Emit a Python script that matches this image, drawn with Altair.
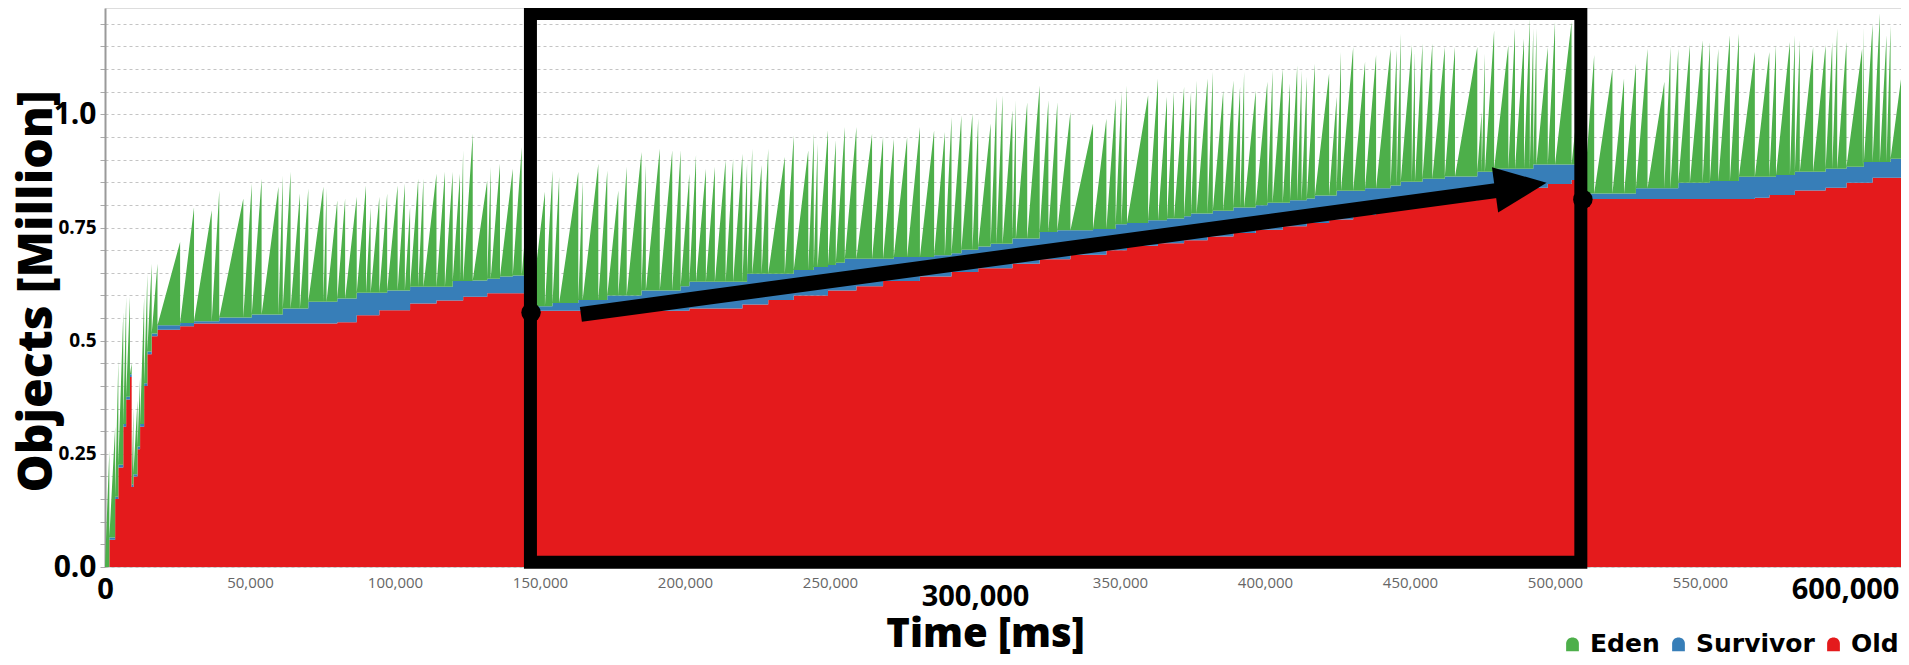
import altair as alt
import numpy as np
import pandas as pd

# ---------------- data ----------------
# time of each young collection (ms) and the total heap objects (millions) just before it
gc_ms = [1500, 3500, 4600, 6300, 7300, 8600, 9200, 9800, 11200, 12100, 13500, 14600, 16100, 18100,
         25900, 30700, 36800, 39400, 47700, 50600, 54000, 59800, 61300, 64000, 67200, 70100, 75300, 76400,
         80100, 82800, 86800, 90000, 91600, 94600, 97300, 100900, 103400, 105200, 108000, 109800, 114300,
         117200, 119900, 122400, 123500,
         126800, 131800, 133000, 136200, 140600, 143700, 147000,
         151700, 154300, 156600, 163200, 164700, 170100, 173200, 177000, 179900, 185000, 186500, 191300,
         195600, 198500, 201500, 203800, 207200, 210300, 214000, 216600, 219800, 221400, 223200, 226400,
         228700, 234400, 237500, 242500, 244400, 245700, 249300,
         252000, 255100, 259100, 264500, 268300, 272000, 276600, 281000, 285900, 289600, 291900, 295300,
         299100, 301100, 305400, 307400, 309500, 312900, 314100, 318000, 322300, 325300, 328400, 332900,
         340700, 345300, 348500, 350500, 352400, 359700, 363100, 366200, 368600, 372100,
         374500, 376400, 380200, 382000, 385600, 389100, 391400, 392800, 396800, 400800, 402600, 406100,
         408600, 411100, 412600, 414400, 417200, 422100, 424700, 426200, 430400, 434500, 438300, 443300,
         445400, 446800, 450600, 451700, 454300, 457700, 462000, 465500, 473200, 474700, 475800, 479000,
         483900, 486200, 489300, 491300, 492500, 493600, 497500,
         500000, 505700, 510000, 513500, 519800, 523800, 527900, 531900, 537700, 539800, 542500, 546500,
         550900, 553400, 556300, 560300, 563400, 568900, 573900, 576200, 581000, 582700, 584400, 589000,
         593300, 595600, 597300, 600500, 605900, 606500, 609500, 612000, 614300, 615700, 620000]
peak_top = [0.258, 0.31, 0.457, 0.563, 0.597, 0.597, 0.45, 0.353, 0.368, 0.42, 0.597, 0.648, 0.67, 0.67,
            0.718, 0.795, 0.788, 0.832, 0.814, 0.847, 0.858, 0.840, 0.865, 0.873, 0.825, 0.836, 0.840, 0.836,
            0.810, 0.814, 0.818, 0.843, 0.795, 0.818, 0.825, 0.843, 0.847, 0.795, 0.858, 0.858, 0.869,
            0.873, 0.873, 0.869, 0.921,
            0.957, 0.854, 0.884, 0.891, 0.880, 0.928, 0.90,
            0.829, 0.876, 0.862, 0.873, 0.854, 0.891, 0.876, 0.832, 0.884, 0.917, 0.888, 0.924,
            0.921, 0.921, 0.869, 0.910, 0.880, 0.884, 0.899, 0.902, 0.913, 0.891, 0.924, 0.888,
            0.924, 0.906, 0.954, 0.921, 0.957, 0.935, 0.965,
            0.943, 0.972, 0.972, 0.957, 0.950, 0.946, 0.950, 0.972, 0.965, 0.961, 0.994, 0.998,
            1.002, 0.991, 0.980, 1.039, 1.042, 1.009, 1.031, 1.027, 1.064, 1.031, 1.027, 1.005,
            0.980, 0.991, 1.035, 1.050, 1.064, 1.042, 1.079, 1.039, 1.050, 1.061,
            1.050, 1.075, 1.079, 1.094, 1.053, 1.075, 1.061, 1.094, 1.053, 1.072, 1.097, 1.101,
            1.068, 1.108, 1.097, 1.083, 1.112, 1.090, 1.039, 1.138, 1.149, 1.116, 1.131, 1.145,
            1.142, 1.178, 1.153, 1.138, 1.156, 1.156, 1.149, 1.149, 1.149, 1.005, 1.134, 1.186,
            1.153, 1.190, 1.167, 1.212, 1.190, 1.190, 1.149,
            1.204, 1.204, 1.15, 1.131, 1.101, 1.079, 1.112, 1.145, 1.072, 1.149, 1.145, 1.153,
            1.164, 1.160, 1.145, 1.175, 1.178, 1.138, 1.138, 1.153, 1.160, 1.175, 1.164, 1.149,
            1.153, 1.160, 1.190, 1.160, 1.145, 1.193, 1.200, 1.223, 1.175, 1.197, 1.112]

# Old generation (millions) from each change time on
old_ms = [0, 1500, 3500, 4600, 6300, 7300, 8600, 9200, 9800, 11200, 12100, 13500, 14600, 16100, 18100,
          25900, 30700, 80100, 86800, 94600, 105200, 114300, 123500, 131800, 147000, 201500, 219800,
          228700, 237500, 249300, 259100, 268300, 281000, 291900, 301100, 312900, 322300, 332900,
          345300, 352400, 363100, 372100, 380200, 389100, 396800, 406100, 414400, 422100, 430400,
          438300, 446800, 454300, 462000, 473200, 479000, 486200, 491300, 497500, 505700, 510000,
          568900, 573900, 582700, 593300, 600500, 609500]
old_val = [0.0, 0.06, 0.15, 0.22, 0.31, 0.37, 0.42, 0.177, 0.20, 0.26, 0.31, 0.40, 0.47, 0.51, 0.524,
           0.532, 0.538, 0.541, 0.556, 0.567, 0.582, 0.589, 0.597, 0.605, 0.566, 0.571, 0.580,
           0.590, 0.600, 0.611, 0.620, 0.632, 0.642, 0.652, 0.660, 0.670, 0.680, 0.690,
           0.700, 0.710, 0.715, 0.722, 0.730, 0.738, 0.745, 0.753, 0.760, 0.768, 0.778,
           0.787, 0.795, 0.802, 0.810, 0.815, 0.822, 0.830, 0.838, 0.846, 0.855, 0.813,
           0.816, 0.822, 0.832, 0.838, 0.849, 0.860]

# top of the Survivor band (Old + Survivor, millions) from each change time on
young_ms = [0, 1500, 3500, 4600, 6300, 7300, 8600, 9200, 9800, 11200, 12100, 13500, 14600, 16100, 18100,
            25900, 30700, 39400, 50600, 61300, 70100, 80100, 86800, 97300, 105200, 119900, 126800,
            131800, 136200, 140600, 147000, 154300, 163200, 173200, 185000, 198500, 201500, 221400,
            237500, 244400, 249300, 252000, 255100, 272000, 285900, 291900, 295300, 301100, 305400,
            312900, 322300, 328400, 340700, 348500, 352400, 359700, 366200, 372100, 374500, 382000,
            389100, 396800, 400800, 408600, 414400, 417200, 424700, 434500, 443300, 446800, 454300,
            462000, 473200, 479000, 492500, 510000, 527900, 542500, 553400, 563400, 576200, 582700,
            593300, 600500, 606500, 615700]
young_top = [0.0, 0.065, 0.155, 0.226, 0.316, 0.376, 0.426, 0.182, 0.205, 0.266, 0.316, 0.406, 0.476, 0.516,
             0.534, 0.539, 0.543, 0.551, 0.558, 0.571, 0.586, 0.593, 0.606, 0.611, 0.619, 0.632, 0.633,
             0.637, 0.642, 0.644, 0.576, 0.583, 0.590, 0.600, 0.611, 0.620, 0.630, 0.648,
             0.656, 0.663, 0.667, 0.672, 0.681, 0.685, 0.689, 0.693, 0.701, 0.708, 0.714,
             0.726, 0.740, 0.744, 0.747, 0.757, 0.760, 0.766, 0.770, 0.775, 0.781, 0.787,
             0.794, 0.799, 0.805, 0.810, 0.814, 0.821, 0.831, 0.837, 0.843, 0.851, 0.858,
             0.863, 0.873, 0.880, 0.889, 0.825, 0.837, 0.849, 0.853, 0.862, 0.866, 0.873,
             0.880, 0.884, 0.895, 0.902]

series_names = ["Eden", "Survivor", "Old"]
series_colors = ["#4daf4a", "#377eb8", "#e41a1c"]

x_ticks = [0, 50000, 100000, 150000, 200000, 250000, 300000, 350000, 400000, 450000, 500000, 550000, 600000]
y_ticks = [0, 0.05, 0.1, 0.15, 0.2, 0.25, 0.3, 0.35, 0.4, 0.45, 0.5, 0.55, 0.6, 0.65, 0.7, 0.75,
           0.8, 0.85, 0.9, 0.95, 1.0, 1.05, 1.1, 1.15, 1.2]

# annotation (in data units)
box_ms = [146700, 508900]
box_val = [0.0104, 1.223]
dot_ms = [146900, 509600]
dot_val = [0.562, 0.812]
arrow_ms = [164100, 480300]
arrow_val = [0.558, 0.832]
head_ms = [488200]
head_val = [0.841]

assert len(gc_ms) == len(peak_top)
assert len(old_ms) == len(old_val)
assert len(young_ms) == len(young_top)

# ---------------- build the stacked table ----------------
def step(ms, vals, t):
    i = int(np.searchsorted(ms, t, side="right")) - 1
    return vals[i]

rows = []
def add(t, old, young, eden):
    surv = max(0.0, young - old)
    rows.append({"t": t, "series": "Old", "v": old, "ord": 0})
    rows.append({"t": t, "series": "Survivor", "v": surv, "ord": 1})
    rows.append({"t": t, "series": "Eden", "v": eden, "ord": 2})

add(0, 0.0, 0.0, 0.0)
prev = 0
for g, top in zip(gc_ms, peak_top):
    o = step(old_ms, old_val, prev)
    y = step(young_ms, young_top, prev)
    add(g - 1, o, y, max(0.0, top - y))
    add(g, step(old_ms, old_val, g), step(young_ms, young_top, g), 0.0)
    prev = g
df = pd.DataFrame(rows)

X_MAX = 619300
Y_MAX = 1.235
x_scale = alt.Scale(domain=[0, X_MAX], nice=False, zero=False)
y_scale = alt.Scale(domain=[0, Y_MAX], nice=False)

big_x = "datum.value % 300000 == 0"
xaxis = alt.Axis(
    values=x_ticks,
    labelExpr="datum.value == 300000 ? ['', format(datum.value, ',.0f')] : format(datum.value, ',.0f')",
    labelLineHeight=7,
    labelFlush=False, labelOverlap=False,
    ticks=False, domain=False, grid=False, labelPadding=8, labelFont="Open Sans",
    labelFontSize={"condition": {"test": big_x, "value": 29}, "value": 15},
    labelFontWeight={"condition": {"test": big_x, "value": "bold"}, "value": "normal"},
    labelColor={"condition": {"test": big_x, "value": "#000000"}, "value": "#666666"},
    titleFont="Open Sans", titleFontSize=40, titleFontWeight=800, titleColor="#000000",
    titleX=880, titleY=67, titleBaseline="middle", titleAlign="center",
)
big_y = "datum.value == 0 || datum.value == 1"
yaxis = alt.Axis(
    values=y_ticks, labelOverlap=False,
    labelExpr=("datum.value == 0 ? '0.0' : datum.value == 1 ? '1.0' : "
               "abs(datum.value - 0.25) < 1e-6 ? '0.25' : abs(datum.value - 0.5) < 1e-6 ? '0.5' : "
               "abs(datum.value - 0.75) < 1e-6 ? '0.75' : ''"),
    grid=True, gridColor="#c4c4c4", gridDash=[3, 3], gridWidth=1,
    tickSize=5, tickColor="#aaaaaa", domainColor="#9a9a9a", domainWidth=2,
    labelPadding=4, labelFont="Open Sans", labelFontWeight="bold", labelColor="#000000",
    labelFontSize={"condition": {"test": big_y, "value": 30}, "value": 19},
    titleFont="Open Sans", titleFontSize=48, titleFontWeight=800, titleColor="#000000",
    titleX=-68, titleY=283, titleAngle=270, titleBaseline="middle", titleAlign="center",
)

bell = "M-0.85,1 L-0.85,0 C-0.85,-1.1 0.85,-1.1 0.85,0 L0.85,1 Z"
legend = alt.Legend(
    title=None, orient="none", legendX=1455, legendY=623, direction="horizontal",
    symbolType=bell, symbolSize=225, symbolStrokeWidth=0, symbolOpacity=1,
    labelFont="DejaVu Sans", labelFontSize=25, labelFontWeight="bold", labelColor="#000000",
    labelOffset=5, columnPadding=6, padding=0,
)

area = alt.Chart(df).mark_area(interpolate="linear", clip=True, opacity=1).encode(
    x=alt.X("t:Q", scale=x_scale, axis=xaxis, title="Time [ms]"),
    y=alt.Y("v:Q", stack="zero", scale=y_scale, axis=yaxis, title="Objects [Million]"),
    color=alt.Color("series:N", scale=alt.Scale(domain=series_names, range=series_colors), legend=legend),
    order=alt.Order("ord:Q", sort="ascending"),
)

box_df = pd.DataFrame({"t1": [box_ms[0]], "t2": [box_ms[1]], "v1": [box_val[0]], "v2": [box_val[1]]})
box = alt.Chart(box_df).mark_rect(fillOpacity=0, stroke="#000000", strokeWidth=13).encode(
    x=alt.X("t1:Q", scale=x_scale, axis=xaxis, title="Time [ms]"), x2="t2:Q",
    y=alt.Y("v1:Q", scale=y_scale, axis=yaxis, title="Objects [Million]"), y2="v2:Q",
)

arrow_df = pd.DataFrame({"t": arrow_ms, "v": arrow_val})
shaft = alt.Chart(arrow_df).mark_line(color="#000000", strokeWidth=15, strokeCap="butt").encode(
    x=alt.X("t:Q", scale=x_scale, axis=xaxis, title="Time [ms]"),
    y=alt.Y("v:Q", scale=y_scale, axis=yaxis, title="Objects [Million]"),
)

head_df = pd.DataFrame({"t": head_ms, "v": head_val})
head = alt.Chart(head_df).mark_point(
    shape="M-1,-0.88 L1,0 L-1,0.88 Z", size=2704, filled=True, color="#000000", opacity=1, angle=352.2
).encode(
    x=alt.X("t:Q", scale=x_scale, axis=xaxis, title="Time [ms]"),
    y=alt.Y("v:Q", scale=y_scale, axis=yaxis, title="Objects [Million]"),
)

dot_df = pd.DataFrame({"t": dot_ms, "v": dot_val})
dots = alt.Chart(dot_df).mark_point(shape="circle", size=380, filled=True, color="#000000", opacity=1).encode(
    x=alt.X("t:Q", scale=x_scale, axis=xaxis, title="Time [ms]"),
    y=alt.Y("v:Q", scale=y_scale, axis=yaxis, title="Objects [Million]"),
)

chart = alt.layer(area, box, shaft, head, dots).properties(
    width=1796, height=559,
    padding={"left": 97, "top": 0, "right": 0, "bottom": 90},
    autosize=alt.AutoSizeParams(type="none"),
).configure_view(strokeWidth=0).configure(background="#ffffff")

chart.save("out.html", embed_options={"renderer": "svg", "actions": False})
